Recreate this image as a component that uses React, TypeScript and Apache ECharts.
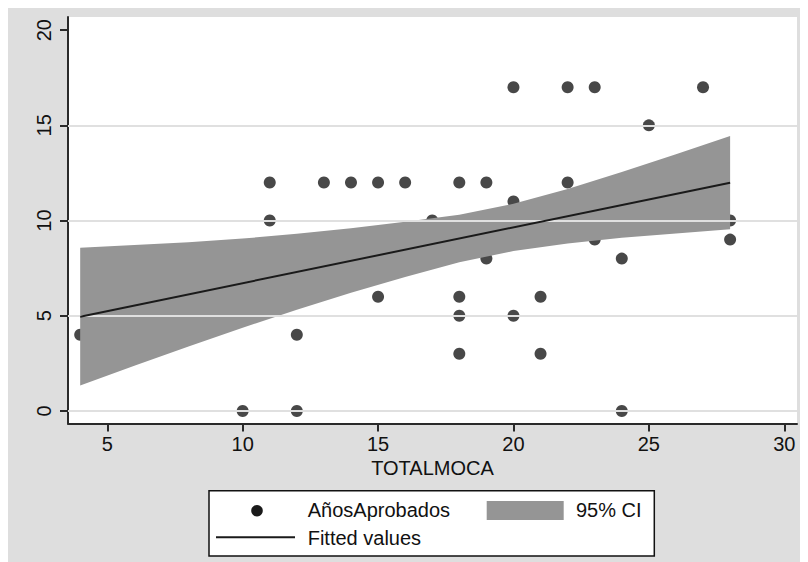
import React, { useEffect, useRef } from "react";
import * as echarts from "echarts";

// Scatter: TOTALMOCA (x) vs AñosAprobados (y)
const totalMoca = [4, 10, 11, 11, 12, 12, 13, 14, 15, 15, 16, 17, 18, 18, 18, 18, 19, 19, 20, 20, 20, 21, 21, 22, 22, 23, 23, 24, 24, 25, 27, 28, 28];
const anosAprobados = [4, 0, 12, 10, 4, 0, 12, 12, 12, 6, 12, 10, 12, 6, 5, 3, 12, 8, 17, 11, 5, 6, 3, 17, 12, 17, 9, 8, 0, 15, 17, 10, 9];

// Fitted values (straight line end points)
const fitX = [4, 28];
const fitY = [4.95, 11.99];

// 95% CI band
const ciX = [4, 6, 8, 10, 12, 14, 16, 18, 20, 22, 24, 26, 28];
const ciUpper = [8.57, 8.71, 8.86, 9.05, 9.31, 9.59, 9.94, 10.31, 10.88, 11.66, 12.55, 13.48, 14.44];
const ciLower = [1.33, 2.37, 3.38, 4.37, 5.32, 6.21, 7.03, 7.81, 8.4, 8.8, 9.09, 9.32, 9.54];

const xTicks = [5, 10, 15, 20, 25, 30];
const yTicks = [0, 5, 10, 15, 20];
const yGrid = [0, 5, 10, 15];

const FONT = "'Liberation Sans', Arial, Helvetica, sans-serif";
const TEXT = "#111111";
const AXIS = "#2a2a2a";

export default function App() {
  const ref = useRef<HTMLDivElement>(null);

  useEffect(() => {
    if (!ref.current) return;
    const chart = echarts.init(ref.current, undefined, { renderer: "svg" });

    const axisCommon = {
      type: "value" as const,
      axisLine: { show: true, onZero: false, lineStyle: { color: AXIS, width: 2 } },
      splitLine: { show: false },
    };

    chart.setOption({
      animation: false,
      backgroundColor: "#dedede",
      grid: {
        left: 60,
        top: 9,
        right: 11,
        bottom: 138.5,
        show: true,
        backgroundColor: "#ffffff",
        borderWidth: 0,
        containLabel: false,
      },
      xAxis: {
        ...axisCommon,
        min: 3.55,
        max: 30.47,
        name: "TOTALMOCA",
        nameLocation: "middle",
        nameGap: 34,
        nameTextStyle: { fontSize: 20, color: TEXT, fontFamily: FONT },
        axisTick: { show: true, length: 8, customValues: xTicks, lineStyle: { color: AXIS, width: 2 } },
        axisLabel: { customValues: xTicks, fontSize: 20, color: TEXT, fontFamily: FONT, margin: 10 },
      },
      yAxis: {
        ...axisCommon,
        min: -0.66,
        max: 20.69,
        axisTick: { show: true, length: 8, customValues: yTicks, lineStyle: { color: AXIS, width: 2 } },
        axisLabel: { customValues: yTicks, fontSize: 20, color: TEXT, fontFamily: FONT, margin: 14, rotate: 90 },
      },
      series: [
        {
          type: "line",
          data: [],
          z: 1,
          silent: true,
          markLine: {
            silent: true,
            symbol: ["none", "none"],
            label: { show: false },
            lineStyle: { color: "#e0e0e0", width: 2, type: "solid" },
            data: yGrid.map((v) => ({ yAxis: v })),
          },
        },
        {
          name: "AñosAprobados",
          type: "scatter",
          z: 3,
          symbol: "circle",
          symbolSize: 12,
          itemStyle: { color: "#1a1a1a" },
          data: totalMoca.map((x, i) => [x, anosAprobados[i]]),
        },
        {
          name: "95% CI",
          type: "custom",
          z: 4,
          silent: true,
          data: ciX.map((x, i) => [x, ciLower[i], ciUpper[i]]),
          encode: { x: 0, y: [1, 2] },
          renderItem: (params: any, api: any) => {
            if (params.dataIndex !== 0) return { type: "group", children: [] };
            const pts: number[][] = [];
            for (let i = 0; i < ciX.length; i++) pts.push(api.coord([ciX[i], ciUpper[i]]));
            for (let i = ciX.length - 1; i >= 0; i--) pts.push(api.coord([ciX[i], ciLower[i]]));
            return {
              type: "polygon",
              shape: { points: pts },
              style: { fill: "#959595", stroke: "none" },
            };
          },
        },
        {
          name: "Fitted values",
          type: "line",
          z: 5,
          symbol: "none",
          lineStyle: { color: "#1a1a1a", width: 2 },
          data: fitX.map((x, i) => [x, fitY[i]]),
        },
      ],
      graphic: [
        {
          type: "rect",
          shape: { x: 201, y: 482.7, width: 445.3, height: 65.3 },
          style: { fill: "#ffffff", stroke: "#111111", lineWidth: 1.5 },
          z: 10,
        },
        {
          type: "circle",
          shape: { cx: 249, cy: 502.7, r: 5.8 },
          style: { fill: "#1a1a1a" },
          z: 11,
        },
        {
          type: "text",
          x: 299.7,
          y: 502.3,
          style: { text: "AñosAprobados", fontSize: 20, fontFamily: FONT, fill: TEXT, verticalAlign: "middle", align: "left" },
          z: 11,
        },
        {
          type: "rect",
          shape: { x: 478.7, y: 493, width: 77, height: 19 },
          style: { fill: "#959595" },
          z: 11,
        },
        {
          type: "text",
          x: 568,
          y: 502.3,
          style: { text: "95% CI", fontSize: 20, fontFamily: FONT, fill: TEXT, verticalAlign: "middle", align: "left" },
          z: 11,
        },
        {
          type: "line",
          shape: { x1: 208, y1: 529.3, x2: 287, y2: 529.3 },
          style: { stroke: "#1a1a1a", lineWidth: 2 },
          z: 11,
        },
        {
          type: "text",
          x: 299.7,
          y: 530,
          style: { text: "Fitted values", fontSize: 20, fontFamily: FONT, fill: TEXT, verticalAlign: "middle", align: "left" },
          z: 11,
        },
      ],
    });

    return () => chart.dispose();
  }, []);

  return <div ref={ref} style={{ width: 800, height: 554 }} />;
}
